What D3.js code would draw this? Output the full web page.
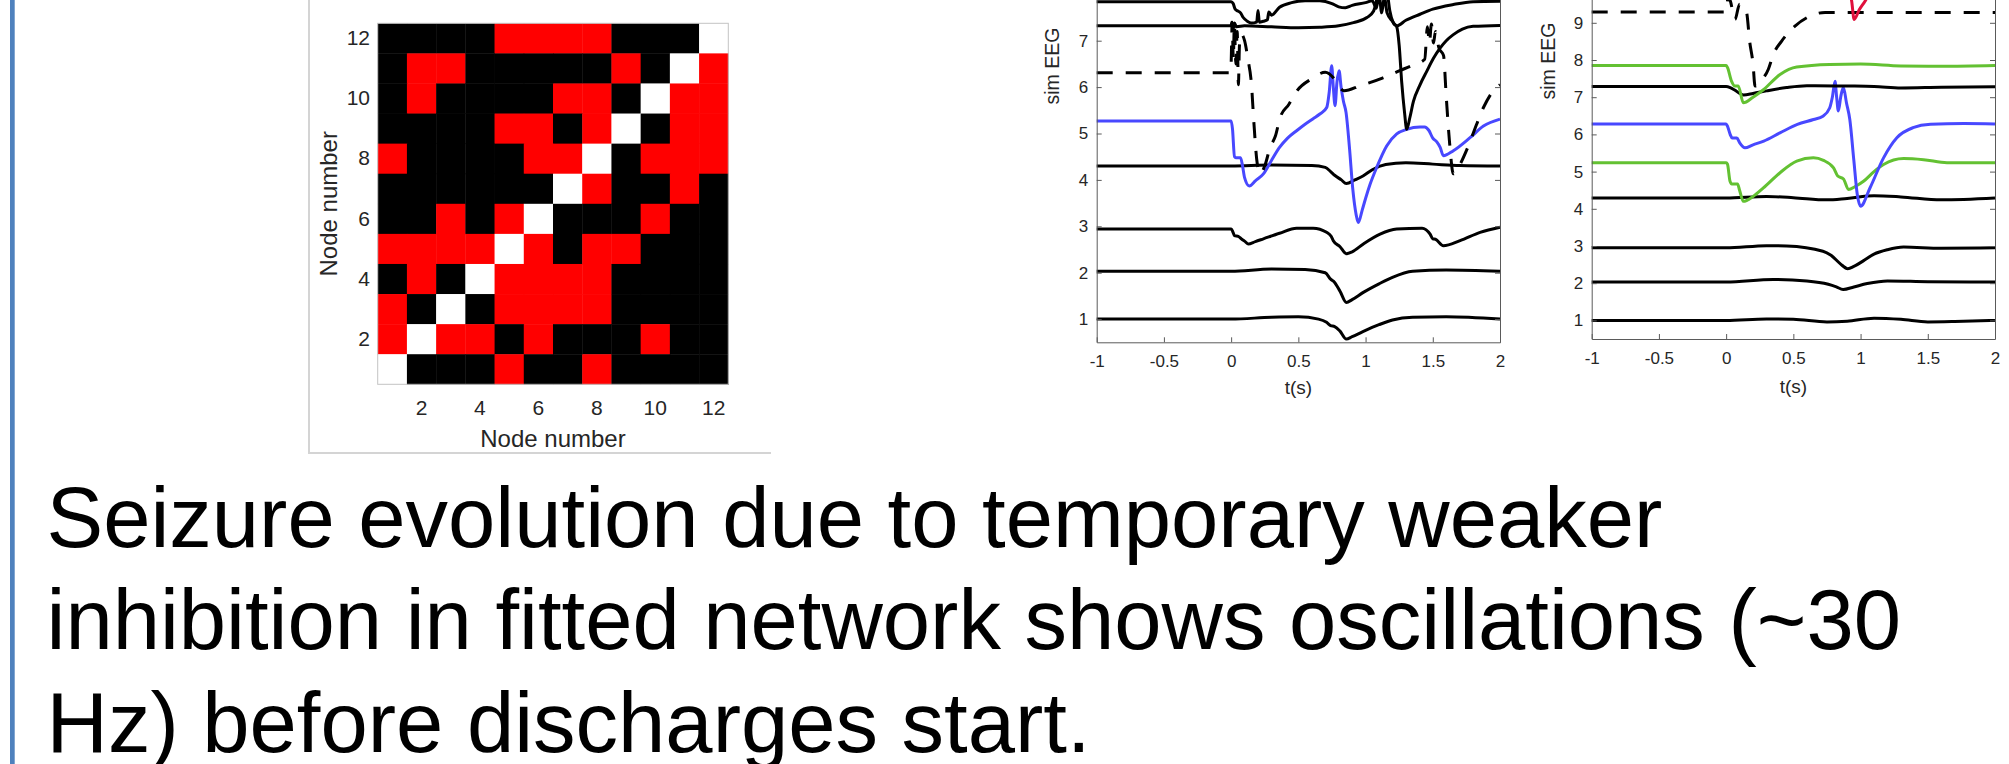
<!DOCTYPE html>
<html><head><meta charset="utf-8">
<script src="https://cdn.jsdelivr.net/npm/d3@7"></script>
<style>
html,body{margin:0;padding:0;background:#fff;}
svg{display:block;font-family:"Liberation Sans",Arial,Helvetica,sans-serif;}
</style></head><body>
<svg id="chart" width="2009" height="764"></svg>
<script>
// ---------------- DATA ----------------
const nodes = [1,2,3,4,5,6,7,8,9,10,11,12];
const nodeTicks = [2,4,6,8,10,12];
// connectivity rows, listed from node 12 (top) down to node 1; 0 = none, 1 = connection, 2 = self
const rowNodes = [12,11,10,9,8,7,6,5,4,3,2,1];
const connRow12 = [0,0,0,0,1,1,1,1,0,0,0,2];
const connRow11 = [0,1,1,0,0,0,0,0,1,0,2,1];
const connRow10 = [0,1,0,0,0,0,1,1,0,2,1,1];
const connRow9  = [0,0,0,0,1,1,0,1,2,0,1,1];
const connRow8  = [1,0,0,0,0,1,1,2,0,1,1,1];
const connRow7  = [0,0,0,0,0,0,2,1,0,0,1,0];
const connRow6  = [0,0,1,0,1,2,0,0,0,1,0,0];
const connRow5  = [1,1,1,1,2,1,0,1,1,0,0,0];
const connRow4  = [0,1,0,2,1,1,1,1,0,0,0,0];
const connRow3  = [1,0,2,0,1,1,1,1,0,0,0,0];
const connRow2  = [1,2,1,1,0,1,0,0,0,1,0,0];
const connRow1  = [2,0,0,0,1,0,0,1,0,0,0,0];
const connRows = [connRow12,connRow11,connRow10,connRow9,connRow8,connRow7,connRow6,connRow5,connRow4,connRow3,connRow2,connRow1];

const timeTicks = [-1,-0.5,0,0.5,1,1.5,2];
const eegTicksA = [1,2,3,4,5,6,7,8,9,10,11,12];
const eegLabelsA = [1,2,3,4,5,6,7];          // labels inside the visible window
const eegTicksB = [1,2,3,4,5,6,7,8,9,10,11,12,13,14,15];
const eegLabelsB = [1,2,3,4,5,6,7,8,9];

// Panel A traces: [t (s), sim EEG]
const a1 = [[-1,1.0],[0,1.0],[0.3,1.04],[0.5,1.05],[0.65,1.0],[0.71,0.93],[0.74,0.86],[0.77,0.84],[0.81,0.74],[0.857,0.57],[0.9,0.62],[0.98,0.73],[1.1,0.88],[1.2,0.98],[1.35,1.04],[1.6,1.05],[2,1.0]];
const a2 = [[-1,2.03],[0,2.03],[0.3,2.08],[0.55,2.07],[0.7,2.0],[0.74,1.86],[0.77,1.79],[0.81,1.6],[0.857,1.36],[0.9,1.42],[0.98,1.57],[1.1,1.76],[1.2,1.9],[1.35,2.03],[1.6,2.06],[2,2.03]];
const a3 = [[-1,2.94],[0,2.94],[0.01,2.9],[0.025,2.8],[0.055,2.78],[0.08,2.72],[0.1,2.68],[0.126,2.62],[0.18,2.67],[0.24,2.73],[0.36,2.85],[0.487,2.96],[0.61,2.96],[0.71,2.87],[0.745,2.78],[0.76,2.69],[0.81,2.56],[0.857,2.41],[0.9,2.45],[0.984,2.62],[1.108,2.83],[1.232,2.94],[1.42,2.96],[1.48,2.83],[1.5,2.73],[1.52,2.72],[1.579,2.58],[1.703,2.69],[1.852,2.87],[2,2.98]];
const a4 = [[-1,4.3],[0,4.3],[0.3,4.32],[0.6,4.31],[0.7,4.27],[0.74,4.18],[0.77,4.1],[0.82,4.0],[0.857,3.92],[0.92,4.0],[0.984,4.09],[1.05,4.22],[1.15,4.33],[1.3,4.37],[1.5,4.34],[1.7,4.31],[2,4.3]];
const a5 = [[-1,5.27],[0,5.27],[0.01,5.1],[0.025,4.5],[0.035,4.48],[0.07,4.48],[0.085,4.3],[0.1,4.05],[0.135,3.87],[0.18,3.98],[0.24,4.13],[0.3,4.42],[0.36,4.7],[0.42,4.9],[0.487,5.06],[0.55,5.2],[0.61,5.32],[0.66,5.42],[0.711,5.56],[0.73,5.9],[0.748,6.46],[0.76,6.0],[0.773,5.6],[0.787,6.1],[0.803,6.35],[0.818,6.0],[0.835,5.7],[0.855,5.45],[0.88,4.7],[0.905,3.8],[0.93,3.25],[0.946,3.08],[0.975,3.35],[1.0,3.6],[1.033,3.9],[1.083,4.27],[1.157,4.73],[1.232,4.99],[1.306,5.09],[1.405,5.14],[1.44,5.14],[1.47,5.07],[1.5,4.9],[1.53,4.82],[1.555,4.7],[1.579,4.52],[1.653,4.63],[1.777,4.91],[1.877,5.16],[2,5.31]];
const a6 = [[-1,6.31],[-0.005,6.31],[0.0,6.5],[0.008,7.4],[0.016,6.6],[0.024,7.35],[0.035,6.5],[0.045,7.2],[0.054,6.05],[0.062,6.9],[0.075,7.14],[0.1,7.0],[0.125,6.6],[0.15,6.1],[0.17,5.2],[0.19,4.45],[0.215,4.13],[0.25,4.3],[0.29,4.7],[0.33,4.95],[0.364,5.34],[0.43,5.63],[0.49,5.92],[0.6,6.18],[0.7,6.32],[0.76,6.2],[0.8,6.02],[0.84,5.92],[0.96,6.03],[1.13,6.2],[1.25,6.35],[1.35,6.47],[1.44,6.6],[1.46,7.3],[1.475,6.95],[1.49,7.36],[1.505,6.95],[1.52,7.2],[1.545,6.85],[1.58,6.68],[1.6,5.8],[1.625,4.8],[1.653,4.13],[1.7,4.32],[1.75,4.63],[1.8,5.0],[1.877,5.56],[1.95,5.92],[2,6.05]];
const a7 = [[-1,7.32],[0,7.32],[0.005,7.4],[0.015,7.25],[0.025,7.38],[0.04,7.3],[0.1,7.32],[0.3,7.3],[0.5,7.28],[0.66,7.29],[0.8,7.32],[0.91,7.39],[1.01,7.5],[1.06,7.64],[1.08,7.85],[1.1,8.4],[1.13,8.6],[1.16,8.1],[1.18,7.65],[1.207,7.38],[1.232,7.3],[1.25,6.9],[1.269,6.1],[1.29,5.45],[1.306,5.09],[1.33,5.35],[1.356,5.69],[1.405,6.05],[1.455,6.34],[1.505,6.62],[1.554,6.84],[1.6,7.0],[1.653,7.13],[1.72,7.25],[1.8,7.31],[2,7.33]];
const a8 = [[-1,7.84],[0,7.84],[0.015,7.8],[0.03,7.68],[0.05,7.64],[0.07,7.6],[0.09,7.5],[0.12,7.42],[0.15,7.38],[0.19,7.4],[0.2,7.65],[0.21,7.4],[0.24,7.42],[0.27,7.45],[0.28,7.62],[0.3,7.55],[0.36,7.72],[0.45,7.82],[0.55,7.86],[0.66,7.86],[0.75,7.8],[0.8,7.73],[0.85,7.71],[0.9,7.76],[1.0,7.82],[1.05,7.86],[1.08,7.7],[1.1,8.0],[1.12,7.6],[1.14,7.95],[1.16,7.6],[1.2,7.42],[1.232,7.32],[1.3,7.44],[1.405,7.57],[1.5,7.68],[1.653,7.78],[1.8,7.84],[2,7.85]];

// Panel B traces
const b1 = [[-1,1.0],[0,1.0],[0.3,1.04],[0.5,1.03],[0.75,0.96],[0.9,0.98],[1.1,1.06],[1.3,1.03],[1.5,0.96],[1.7,0.97],[2,1.0]];
const b2 = [[-1,2.03],[0,2.03],[0.35,2.1],[0.6,2.06],[0.76,1.97],[0.82,1.9],[0.87,1.83],[0.95,1.9],[1.05,1.99],[1.2,2.06],[1.5,2.04],[2,2.03]];
const b3 = [[-1,2.95],[0,2.95],[0.3,3.01],[0.45,3.0],[0.72,2.86],[0.78,2.75],[0.85,2.52],[0.905,2.39],[0.95,2.45],[1.02,2.6],[1.1,2.78],[1.2,2.9],[1.32,2.97],[1.6,2.94],[2,2.95]];
const b4 = [[-1,4.29],[0,4.29],[0.3,4.33],[0.5,4.3],[0.75,4.24],[0.9,4.28],[1.1,4.35],[1.3,4.32],[1.6,4.24],[2,4.29]];
const b5 = [[-1,5.24],[0,5.24],[0.01,5.2],[0.029,4.74],[0.042,4.67],[0.085,4.67],[0.1,4.5],[0.128,4.2],[0.2,4.33],[0.277,4.56],[0.401,4.97],[0.525,5.28],[0.649,5.37],[0.724,5.3],[0.799,5.1],[0.83,4.88],[0.873,4.8],[0.91,4.52],[0.96,4.6],[1.022,4.74],[1.1,5.0],[1.171,5.19],[1.32,5.35],[1.469,5.32],[1.643,5.24],[2,5.24]];
const b6 = [[-1,6.28],[0,6.28],[0.01,6.22],[0.03,6.0],[0.045,5.9],[0.08,5.9],[0.1,5.78],[0.14,5.64],[0.2,5.72],[0.28,5.82],[0.4,6.04],[0.53,6.27],[0.65,6.4],[0.72,6.49],[0.77,6.71],[0.79,7.0],[0.81,7.43],[0.822,7.0],[0.835,6.63],[0.852,7.0],[0.872,7.27],[0.895,6.85],[0.92,6.4],[0.95,5.3],[0.975,4.4],[1.0,4.07],[1.07,4.56],[1.171,5.37],[1.27,5.91],[1.39,6.18],[1.52,6.27],[1.77,6.29],[2,6.28]];
const b7 = [[-1,7.29],[0,7.29],[0.03,7.26],[0.06,7.2],[0.13,7.06],[0.2,7.1],[0.3,7.17],[0.45,7.26],[0.6,7.31],[0.9,7.3],[1.1,7.29],[1.3,7.25],[1.6,7.27],[2,7.28]];
const b8 = [[-1,7.85],[0,7.85],[0.01,7.8],[0.04,7.43],[0.065,7.3],[0.09,7.3],[0.128,6.85],[0.2,7.0],[0.277,7.2],[0.401,7.61],[0.525,7.81],[0.77,7.88],[1.0,7.89],[1.3,7.84],[1.6,7.83],[2,7.85]];
const b9 = [[-1,9.29],[0,9.29],[0.015,9.7],[0.03,9.6],[0.066,9.09],[0.1,9.5],[0.13,9.45],[0.153,9.27],[0.175,8.5],[0.2,7.9],[0.215,7.3],[0.24,7.32],[0.252,7.39],[0.314,7.75],[0.351,8.15],[0.413,8.51],[0.512,8.91],[0.624,9.18],[0.736,9.28],[0.823,9.28],[2,9.28]];
const b10 = [[-1,10.3],[0,10.3],[0.5,10.35],[0.85,10.3],[0.9,10.0],[0.934,9.58],[0.952,9.09],[0.99,9.35],[1.033,9.58],[1.1,10.0],[1.3,10.3],[2,10.3]];

const captionLines = [
  "Seizure evolution due to temporary weaker",
  "inhibition in fitted network shows oscillations (~30",
  "Hz) before discharges start."
];

// ---------------- DRAW ----------------
const svg = d3.select("#chart");
const BLACK = "#000000", BLUE = "#4848ff", GREEN = "#63c132", RED = "#e0103c";
const tickColor = "#262626";

svg.append("rect").attr("width",2009).attr("height",764).attr("fill","#fff");

// left accent bar
svg.append("rect").attr("x",10).attr("y",0).attr("width",4.7).attr("height",764).attr("fill","#4f81bd");

// frame around matrix figure
svg.append("path").attr("d","M309,0 L309,453 L771,453")
  .attr("fill","none").attr("stroke","#d4d4d4").attr("stroke-width",2);

// heatmap
const xN = d3.scaleBand().domain(nodes).range([377.7,728.3]);
const yN = d3.scaleBand().domain(rowNodes).range([23.3,384.3]);
const cellColor = d3.scaleOrdinal().domain([0,1,2]).range(["#000000","#ff0000","#ffffff"]);
const hm = svg.append("g");
connRows.forEach((row,ri)=>{
  hm.selectAll(null).data(row).enter().append("rect")
    .attr("x",(v,ci)=>xN(nodes[ci]))
    .attr("y",yN(rowNodes[ri]))
    .attr("width",xN.bandwidth()+0.4)
    .attr("height",yN.bandwidth()+0.4)
    .attr("fill",v=>cellColor(v));
});
svg.append("rect").attr("x",377.7).attr("y",23.3).attr("width",350.6).attr("height",361)
  .attr("fill","none").attr("stroke","#c4c4c4").attr("stroke-width",1);

const hmX = svg.append("g").attr("transform","translate(0,384.3)")
  .call(d3.axisBottom(xN).tickValues(nodeTicks).tickSize(0).tickPadding(15.5));
const hmY = svg.append("g").attr("transform","translate(377.7,0)")
  .call(d3.axisLeft(yN).tickValues(nodeTicks).tickSize(0).tickPadding(7.7));
[hmX,hmY].forEach(g=>{
  g.select(".domain").remove();
  g.selectAll("text").attr("font-size",21).attr("fill",tickColor).attr("font-family","Liberation Sans, Arial, sans-serif");
});
svg.append("text").attr("x",553).attr("y",446.5).attr("text-anchor","middle")
  .attr("font-size",24).attr("fill",tickColor).text("Node number");
svg.append("text").attr("transform","translate(336.5,203.8) rotate(-90)").attr("text-anchor","middle")
  .attr("font-size",24).attr("fill",tickColor).text("Node number");

// EEG panels
function drawPanel(cfg){
  const x = d3.scaleLinear().domain([-1,2]).range([cfg.left,cfg.right]);
  const y = d3.scaleLinear().domain(cfg.yDomain).range([cfg.bottom,cfg.top]);
  const g = svg.append("g");
  const line = d3.line().x(d=>x(d[0])).y(d=>y(d[1])).curve(d3.curveMonotoneX);
  cfg.traces.forEach(tr=>{
    g.append("path").attr("d",line(tr.data))
      .attr("fill","none").attr("stroke",tr.color).attr("stroke-width",3)
      .attr("stroke-linejoin","round").attr("stroke-linecap","butt")
      .attr("stroke-dasharray",tr.dashed?"16 13":null);
  });
  const fmt = d=>String(d);
  const ax = g.append("g").attr("transform",`translate(0,${cfg.bottom})`)
    .call(d3.axisBottom(x).tickValues(timeTicks).tickSizeInner(-5).tickSizeOuter(0).tickPadding(12.7).tickFormat(fmt));
  // left axis: tick marks for every tick, labels only where they fall inside the picture
  const ayL = g.append("g").attr("transform",`translate(${cfg.left},0)`)
    .call(d3.axisLeft(y).tickValues(cfg.yTicks).tickSizeInner(-5).tickSizeOuter(0).tickFormat(""));
  const ayLab = g.append("g").attr("transform",`translate(${cfg.left},0)`)
    .call(d3.axisLeft(y).tickValues(cfg.yLabels).tickSize(0).tickPadding(8.4).tickFormat(fmt));
  ayLab.select(".domain").remove();
  const ayR = g.append("g").attr("transform",`translate(${cfg.right},0)`)
    .call(d3.axisRight(y).tickValues(cfg.yTicks).tickSizeInner(-5).tickSizeOuter(0).tickFormat(""));
  [ax,ayL,ayR].forEach(a=>{
    a.selectAll(".domain,line").attr("stroke","#5a5a5a").attr("stroke-width",1);
  });
  [ax,ayLab].forEach(a=>{
    a.selectAll("text").attr("font-size",17).attr("fill",tickColor).attr("font-family","Liberation Sans, Arial, sans-serif");
  });
  g.append("text").attr("x",(cfg.left+cfg.right)/2).attr("y",cfg.bottom+cfg.tlabelOffset)
    .attr("text-anchor","middle").attr("font-size",19).attr("fill",tickColor).text("t(s)");
  g.append("text").attr("transform",`translate(${cfg.ylabelX},${cfg.ylabelY}) rotate(-90)`)
    .attr("text-anchor","middle").attr("font-size",19.5).attr("fill",tickColor).text("sim EEG");
}

drawPanel({
  left:1096.7, right:1500, bottom:342.3, top:-214.5, yDomain:[0.5,12.5], yTicks:eegTicksA, yLabels:eegLabelsA,
  tlabelOffset:52, ylabelX:1058.5, ylabelY:66,
  traces:[
    {data:a1,color:BLACK},{data:a2,color:BLACK},{data:a3,color:BLACK},{data:a4,color:BLACK},
    {data:a5,color:BLUE},{data:a6,color:BLACK,dashed:true},{data:a7,color:BLACK},{data:a8,color:BLACK}
  ]
});
drawPanel({
  left:1591.7, right:1995, bottom:339, top:-219, yDomain:[0.5,15.5], yTicks:eegTicksB, yLabels:eegLabelsB,
  tlabelOffset:53.7, ylabelX:1555, ylabelY:61,
  traces:[
    {data:b1,color:BLACK},{data:b2,color:BLACK},{data:b3,color:BLACK},{data:b4,color:BLACK},
    {data:b5,color:GREEN},{data:b6,color:BLUE},{data:b7,color:BLACK},{data:b8,color:GREEN},
    {data:b9,color:BLACK,dashed:true},{data:b10,color:RED}
  ]
});

// caption
const baselines = [546.5,649.2,751.9];
svg.append("g").selectAll("text").data(captionLines).enter().append("text")
  .attr("x",46.5).attr("y",(d,i)=>baselines[i])
  .attr("font-size",85).attr("fill","#000").text(d=>d);
</script>
</body></html>
